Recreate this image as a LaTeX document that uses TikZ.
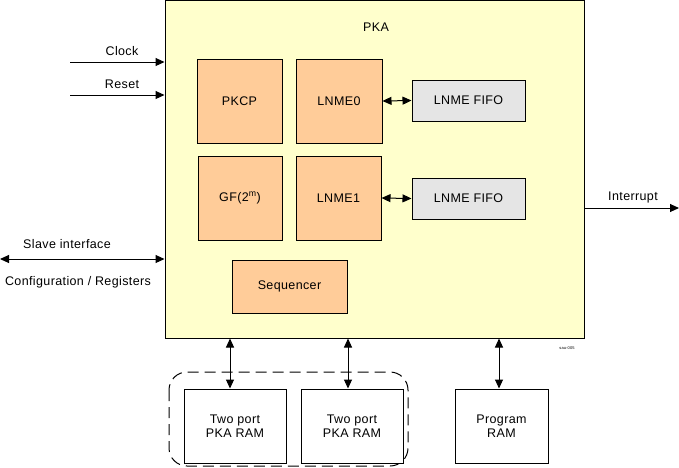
\documentclass[tikz,border=0pt]{standalone}
\usepackage{fontspec}
\setmainfont{Liberation Sans}[LetterSpace=3]
\usetikzlibrary{arrows.meta}
\definecolor{pkabg}{HTML}{FFFFCC}
\definecolor{blockbg}{HTML}{FFCC99}
\definecolor{fifobg}{HTML}{E5E5E5}
\tikzset{
  every node/.style={font=\fontsize{12.5}{14}\selectfont, inner sep=0pt},
  blk/.style={draw, line width=1pt, fill=blockbg, align=center},
  fifo/.style={draw, line width=1pt, fill=fifobg, align=center},
  ram/.style={draw, line width=1pt, fill=white, align=center},
  sig/.style={line width=1pt, -{Triangle[length=9pt,width=8pt]}},
  bisig/.style={line width=1pt, {Triangle[length=9pt,width=8pt]}-{Triangle[length=9pt,width=8pt]}},
  lbl/.style={anchor=base}
}
\begin{document}
\begin{tikzpicture}[x=1pt,y=-1pt]
\useasboundingbox (0,0) rectangle (679,467);
\fill[white] (0,0) rectangle (679,467);
% PKA main block
\node[draw, line width=1pt, fill=pkabg, minimum width=419pt, minimum height=337.5pt] (pka) at (374.5,169.25) {};
\node[lbl] (pkalbl) at (376,31) {PKA};
% inner blocks
\node[blk, minimum width=85pt, minimum height=84pt] (pkcp) at (239.5,101) {PKCP};
\node[blk, minimum width=86pt, minimum height=84pt] (lnme0) at (339,101) {LNME0};
\node[fifo, minimum width=113pt, minimum height=41pt] (fifo0) at (468.5,100.5) {LNME FIFO};
\node[blk, minimum width=84pt, minimum height=84pt] (gf) at (240,198) {GF(2\textsuperscript{m})};
\node[blk, minimum width=85pt, minimum height=84pt] (lnme1) at (338.5,198) {LNME1};
\node[fifo, minimum width=113pt, minimum height=41pt] (fifo1) at (468.5,198.5) {LNME FIFO};
\node[blk, minimum width=115pt, minimum height=53pt] (seq) at (289.5,286.5) {Sequencer};
\draw[bisig] (lnme0.east) -- (fifo0.west);
\draw[bisig] (lnme1.east) -- (fifo1.west);
% left inputs
\coordinate (clkin) at (70,62);
\coordinate (rstin) at (70,95);
\coordinate (slvin) at (0,259);
\coordinate (intout) at (679,208);
\draw[sig] (clkin) -- (clkin -| pka.west);
\node[lbl] (clklbl) at (122,55) {Clock};
\draw[sig] (rstin) -- (rstin -| pka.west);
\node[lbl] (rstlbl) at (122,88) {Reset};
\draw[bisig] (slvin) -- (slvin -| pka.west);
\node[lbl] (slvlbl) at (67,248) {Slave interface};
\node[lbl] (cfglbl) at (78,285) {Configuration / Registers};
\draw[sig] (intout -| pka.east) -- (intout);
\node[lbl] (intlbl) at (633,200) {Interrupt};
% bottom
\draw[dashed, dash pattern=on 11pt off 6pt, line width=1pt, rounded corners=18pt] (169,372) rectangle (408,466);
\node[ram, minimum width=102pt, minimum height=74pt] (ram1) at (235,426) {Two port\\PKA RAM};
\node[ram, minimum width=102pt, minimum height=74pt] (ram2) at (352,426) {Two port\\PKA RAM};
\node[ram, minimum width=93pt, minimum height=74pt] (pram) at (501.5,426) {Program\\RAM};
\coordinate (b1) at (230,0);
\coordinate (b2) at (348,0);
\coordinate (b3) at (499,0);
\draw[bisig] (b1 |- pka.south) -- (b1 |- ram1.north);
\draw[bisig] (b2 |- pka.south) -- (b2 |- ram2.north);
\draw[bisig] (b3 |- pka.south) -- (b3 |- pram.north);
\node[font=\fontsize{4}{5}\selectfont] (sau) at (567,348) {sau-005};
\end{tikzpicture}
\end{document}
